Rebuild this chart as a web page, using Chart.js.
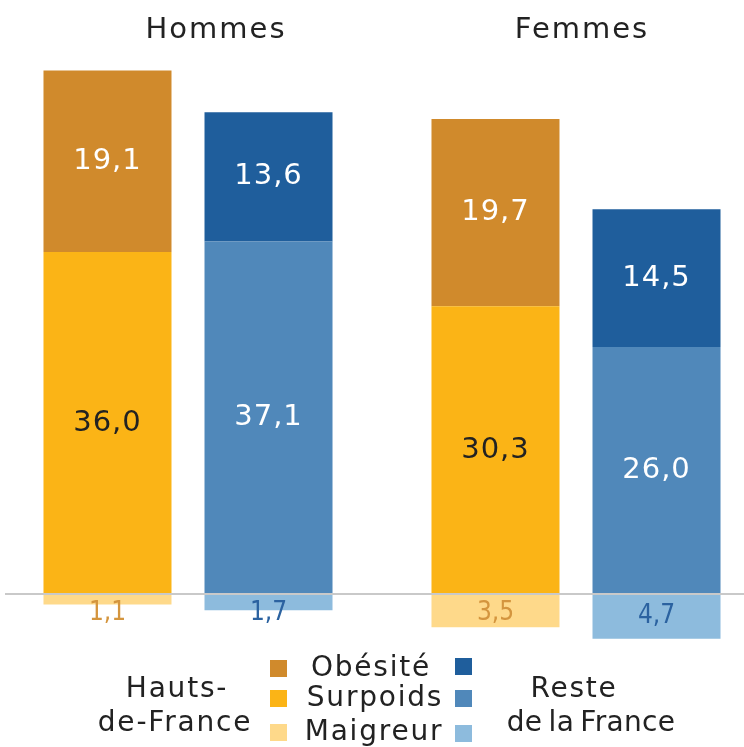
<!DOCTYPE html>
<html><head><meta charset="utf-8">
<script src="https://cdn.jsdelivr.net/npm/chart.js@4.4.1/dist/chart.umd.min.js"></script>
<style>
html,body{margin:0;padding:0;background:#fff;}
body{width:744px;height:747px;position:relative;overflow:hidden;font-family:"DejaVu Sans",sans-serif;color:#222;}
#wrap{position:absolute;left:-6px;top:0;width:776px;height:747px;}
.t{position:absolute;white-space:nowrap;transform:translate(-50%,-50%);line-height:1;font-size:28px;letter-spacing:1.8px;}
.title{font-size:29px;letter-spacing:2px;}
.sq{position:absolute;width:17px;height:17px;}
</style></head><body>
<div id="wrap"><canvas id="c"></canvas></div>
<div class="t title" style="left:216px;top:28px">Hommes</div>
<div class="t title" style="left:582px;top:28px">Femmes</div>

<div class="t" style="left:177px;top:688px">Hauts-</div>
<div class="t" style="left:175px;top:722px">de-France</div>
<div class="sq" style="left:270px;top:660px;background:#D08A2C"></div>
<div class="sq" style="left:270px;top:690px;background:#FBB416"></div>
<div class="sq" style="left:270px;top:724px;background:#FED98A"></div>
<div class="t" style="left:371px;top:667px">Obésité</div>
<div class="t" style="left:375px;top:697px">Surpoids</div>
<div class="t" style="left:374px;top:731px">Maigreur</div>
<div class="sq" style="left:455px;top:658px;background:#1F5E9C"></div>
<div class="sq" style="left:455px;top:690px;background:#5088BA"></div>
<div class="sq" style="left:455px;top:725px;background:#8DBBDD"></div>
<div class="t" style="left:574px;top:688px">Reste</div>
<div class="t" style="left:591px;top:722px;letter-spacing:0.3px;word-spacing:-3px">de la France</div>

<script>
const groups = ['Hommes', 'Femmes'];
const regions = ['Hauts-de-France', 'Reste de la France'];
const hdfObesite = [19.1, 19.7];
const hdfSurpoids = [36.0, 30.3];
const hdfMaigreur = [1.1, 3.5];
const resteObesite = [13.6, 14.5];
const resteSurpoids = [37.1, 26.0];
const resteMaigreur = [1.7, 4.7];

const neg = a => a.map(v => -v);
const fmt = v => Math.abs(v).toFixed(1).replace('.', ',');

const datasets = [
  {label:'Surpoids', stack:'hdf', data:hdfSurpoids, backgroundColor:'#FBB416', lblColor:'#222222'},
  {label:'Obésité', stack:'hdf', data:hdfObesite, backgroundColor:'#D08A2C', lblColor:'#ffffff'},
  {label:'Maigreur', stack:'hdf', data:neg(hdfMaigreur), backgroundColor:'#FED98A', lblColor:'#D4953E', isNeg:true},
  {label:'Surpoids', stack:'reste', data:resteSurpoids, backgroundColor:'#5088BA', lblColor:'#ffffff'},
  {label:'Obésité', stack:'reste', data:resteObesite, backgroundColor:'#1F5E9C', lblColor:'#ffffff'},
  {label:'Maigreur', stack:'reste', data:neg(resteMaigreur), backgroundColor:'#8DBBDD', lblColor:'#2B62A0', isNeg:true}
];

const zeroLine = {
  id:'zeroLine',
  afterDatasetsDraw(chart){
    const ctx = chart.ctx, y = chart.scales.y.getPixelForValue(0);
    ctx.save();
    ctx.strokeStyle = '#c9c9c9'; ctx.lineWidth = 2;
    ctx.beginPath(); ctx.moveTo(11, y); ctx.lineTo(chart.width, y); ctx.stroke();
    ctx.restore();
  }
};
const valueLabels = {
  id:'valueLabels',
  afterDatasetsDraw(chart){
    const ctx = chart.ctx, y0 = chart.scales.y.getPixelForValue(0);
    ctx.save();
    ctx.textAlign = 'center'; ctx.textBaseline = 'middle';
    chart.data.datasets.forEach((ds, i) => {
      const meta = chart.getDatasetMeta(i);
      meta.data.forEach((bar, j) => {
        const p = bar.getProps(['x','y','base'], true);
        let cy = (p.y + p.base) / 2;
        if (ds.isNeg) {
          cy = Math.max(cy, y0 + 19);
          ctx.font = '26px "DejaVu Sans Condensed", "DejaVu Sans", sans-serif';
          ctx.letterSpacing = '0px';
        } else {
          ctx.font = '29px "DejaVu Sans", sans-serif';
          ctx.letterSpacing = '1px';
        }
        ctx.fillStyle = ds.lblColor;
        ctx.fillText(fmt(ds.data[j]), p.x, cy);
      });
    });
    ctx.restore();
  }
};

new Chart(document.getElementById('c'), {
  type:'bar',
  data:{labels:groups, datasets},
  options:{
    responsive:true, maintainAspectRatio:false, animation:false,
    categoryPercentage:0.83, barPercentage:0.795,
    layout:{padding:{top:24, bottom:96, left:0, right:0}},
    plugins:{legend:{display:false}, tooltip:{enabled:false}},
    scales:{
      x:{display:false},
      y:{display:false, stacked:true, min:-6, max:60}
    }
  },
  plugins:[zeroLine, valueLabels]
});
</script>
</body></html>
